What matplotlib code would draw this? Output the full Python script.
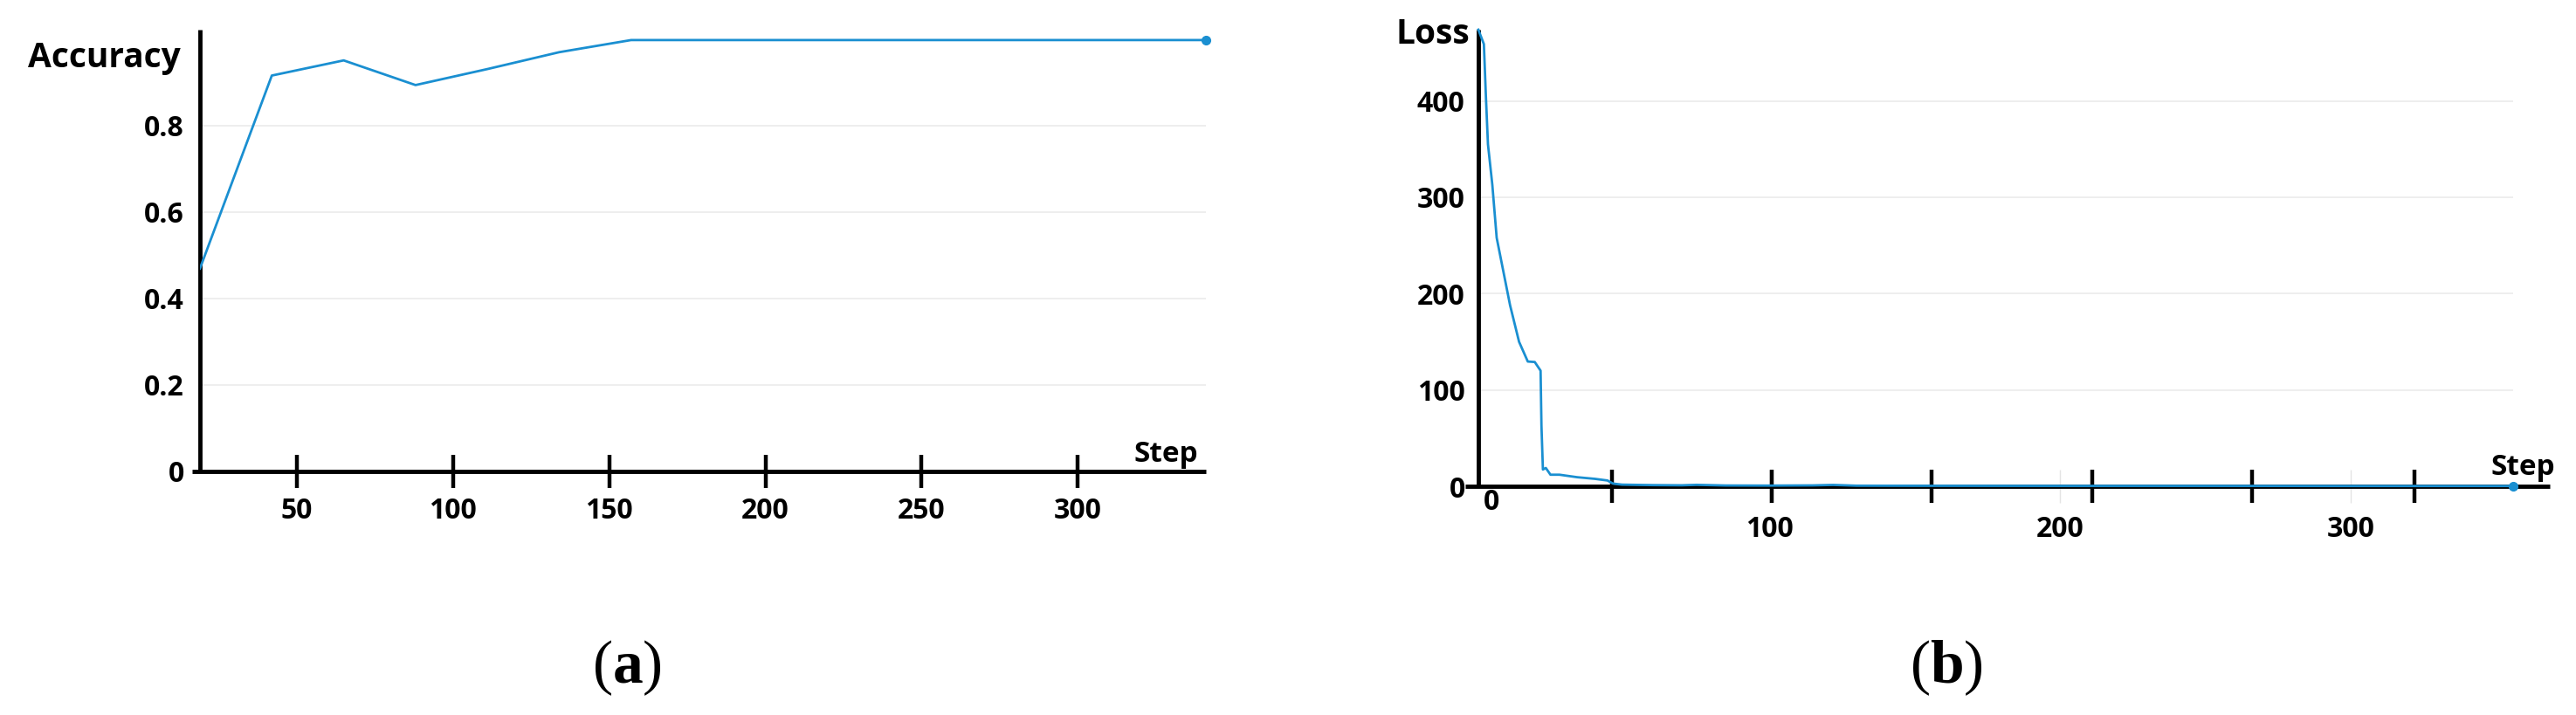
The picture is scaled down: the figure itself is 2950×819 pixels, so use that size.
import matplotlib
matplotlib.use("Agg")
import matplotlib.pyplot as plt

# === DATA ===
acc_steps = [19, 42, 65, 88, 111, 134, 157, 180, 203, 226, 249, 272, 295, 318, 341]
acc_values = [0.469, 0.915, 0.950, 0.893, 0.930, 0.969, 0.997, 0.997, 0.997,
              0.997, 0.997, 0.997, 0.997, 0.997, 0.997]
acc_yticks = [0, 0.2, 0.4, 0.6, 0.8]
acc_yticklabels = ["0", "0.2", "0.4", "0.6", "0.8"]
acc_xticks = [50, 100, 150, 200, 250, 300]

loss_steps = [0, 1.9, 2.6, 3.3, 4.8, 6.3, 8.6, 10.9, 14, 17, 19.4, 21.4, 21.7, 22.2,
              23.2, 24.8, 27.9, 34, 40.1, 44.4, 46.3, 49.4, 60, 70, 75, 85, 100,
              115, 122, 130, 150, 200, 250, 300, 356]
loss_values = [474, 459, 404, 355, 313, 258, 223, 188, 150, 129.5, 129, 120, 62.7, 17.4,
               19, 12, 12, 9.4, 7.7, 6, 2.8, 1.7, 1.2, 1.0, 1.5, 0.8, 0.7,
               0.9, 1.4, 0.6, 0.5, 0.4, 0.4, 0.3, 0.3]
loss_yticks = [0, 100, 200, 300, 400]
loss_xlabels = [100, 200, 300]
loss_marks = [46, 101, 156, 211, 266, 322]   # black tick marks (offset from labels in source)

# === STYLE ===
W, H = 2950, 819
BLUE = "#1a8fd1"
GRID = "#ebebeb"
plt.rcParams["font.family"] = ["Open Sans", "DejaVu Sans"]
plt.rcParams["font.weight"] = "bold"
plt.rcParams["mathtext.fontset"] = "custom"
plt.rcParams["mathtext.rm"] = "Liberation Serif"
plt.rcParams["mathtext.bf"] = "Liberation Serif:bold"

fig = plt.figure(figsize=(W / 100, H / 100), dpi=100)

ax1 = fig.add_axes([229 / W, 1 - 540 / H, (1381 - 229) / W, (540 - 34) / H])
ax2 = fig.add_axes([1693 / W, 1 - 557 / H, (2920 - 1693) / W, (557 - 34) / H])

for ax in (ax1, ax2):
    for s in ("top", "right"):
        ax.spines[s].set_visible(False)
    for s in ("left", "bottom"):
        ax.spines[s].set_linewidth(3.5)
        ax.spines[s].set_color("black")
        ax.spines[s].set_capstyle("butt")

# === (a) ACCURACY ===
ax1.set_xlim(acc_steps[0], acc_steps[-1])
ax1.set_ylim(0, 1.021)
ax1.spines["bottom"].set_bounds(16.5, acc_steps[-1])
for y in acc_yticks[1:]:
    ax1.axhline(y, color=GRID, lw=1.2, zorder=0)
ax1.plot(acc_steps, acc_values, color=BLUE, lw=2.0, zorder=3)
ax1.plot(acc_steps[-1], acc_values[-1], "o", color=BLUE, ms=7, zorder=4, clip_on=False)
ax1.set_yticks(acc_yticks)
ax1.set_yticklabels(acc_yticklabels)
ax1.set_xticks(acc_xticks)
ax1.tick_params(axis="y", length=0, pad=13, labelsize=23)
ax1.tick_params(axis="x", direction="inout", length=27, width=3.2, pad=7.4, labelsize=23)
fig.text(207 / W, 1 - 66 / H, "Accuracy", ha="right", va="center", fontsize=28,
         fontweight="bold")
fig.text(1372 / W, 1 - 529 / H, "Step", ha="right", va="baseline", fontsize=24,
         fontweight="bold")

# === (b) LOSS ===
ax2.set_xlim(0, 368.5)
ax2.set_ylim(0, 474)
ax2.spines["bottom"].set_bounds(-4.5, 368.5)
ax2.hlines(loss_yticks[1:], 0, loss_steps[-1], color=GRID, lw=1.2, zorder=0)
ax2.plot(loss_steps, loss_values, color=BLUE, lw=2.0, zorder=3, clip_on=False)
ax2.plot(loss_steps[-1], loss_values[-1], "o", color=BLUE, ms=7, zorder=4, clip_on=False)
ax2.set_yticks(loss_yticks)
ax2.tick_params(axis="y", length=0, pad=11, labelsize=23)
ax2.set_xticks(loss_xlabels)
ax2.tick_params(axis="x", which="major", direction="inout", length=27, width=1,
                color="#e4e4e4", pad=10.3, labelsize=23)
ax2.set_xticks(loss_marks, minor=True)
ax2.tick_params(axis="x", which="minor", direction="inout", length=27, width=3.2,
                color="black")
ax2.annotate("0", xy=(0, 0), xycoords=("data", "axes fraction"), xytext=(15, -19),
             textcoords="offset pixels", ha="center", va="center", fontsize=23,
             fontweight="bold")
fig.text(1683 / W, 1 - 40 / H, "Loss", ha="right", va="center", fontsize=28,
         fontweight="bold")
fig.text(2926 / W, 1 - 544 / H, "Step", ha="right", va="baseline", fontsize=24,
         fontweight="bold")

# === CAPTIONS ===
fig.text(718 / W, 1 - 765 / H, r"($\mathbf{a}$)", ha="center", va="center",
         fontsize=50, family="Liberation Serif", fontweight="normal")
fig.text(2229 / W, 1 - 765 / H, r"($\mathbf{b}$)", ha="center", va="center",
         fontsize=50, family="Liberation Serif", fontweight="normal")

fig.savefig("out.png", dpi=100, facecolor="white")
